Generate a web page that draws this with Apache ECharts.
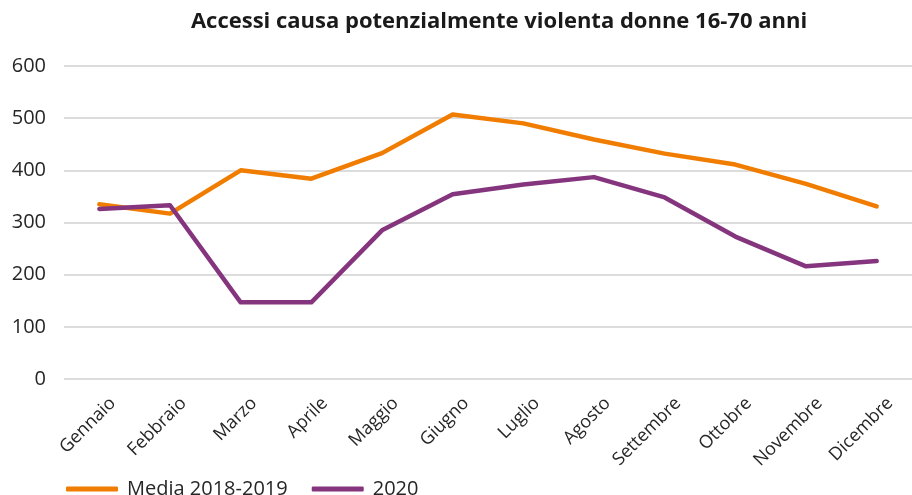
<!DOCTYPE html>
<html>
<head>
<meta charset="utf-8">
<script src="https://cdn.jsdelivr.net/npm/echarts@6/dist/echarts.min.js"></script>
<style>
  html, body { margin: 0; padding: 0; background: #fff; }
  #chart { width: 912px; height: 495px; }
</style>
</head>
<body>
<div id="chart"></div>
<script>
const months = ['Gennaio', 'Febbraio', 'Marzo', 'Aprile', 'Maggio', 'Giugno',
  'Luglio', 'Agosto', 'Settembre', 'Ottobre', 'Novembre', 'Dicembre']
const media1819 = [335, 317, 400, 384, 433, 507, 490, 459, 432, 411, 374, 331]
const anno2020 = [326, 333, 147, 147, 285, 354, 373, 387, 348, 273, 216, 226]
const yTicks = [0, 100, 200, 300, 400, 500, 600]

const chart = echarts.init(document.getElementById('chart'))
chart.setOption({
  animation: false,
  textStyle: { fontFamily: 'Open Sans' },
  title: {
    text: 'Accessi causa potenzialmente violenta donne 16-70 anni',
    left: 494,
    textAlign: 'center',
    top: 6,
    textStyle: { fontSize: 22, fontWeight: 'bold', color: '#1a1a1a', fontFamily: 'Open Sans' }
  },
  legend: {
    left: 61,
    top: 474,
    itemWidth: 52,
    itemHeight: 5,
    itemGap: 24,
    textStyle: { fontSize: 20, color: '#262626', padding: [0, 0, 0, 4] },
    data: [
      { name: 'Media 2018-2019', icon: 'roundRect' },
      { name: '2020', icon: 'roundRect' }
    ]
  },
  grid: { left: 64, right: -14, top: 66, bottom: 116 },
  xAxis: {
    type: 'category',
    data: months,
    boundaryGap: true,
    axisLine: { show: false },
    axisTick: { show: false },
    axisLabel: {
      rotate: 45,
      fontSize: 18,
      color: '#262626',
      margin: 8,
      verticalAlign: 'top',
      lineHeight: 38
    }
  },
  yAxis: {
    type: 'value',
    min: yTicks[0],
    max: yTicks[yTicks.length - 1],
    interval: 100,
    axisLine: { show: false },
    axisTick: { show: false },
    axisLabel: { fontSize: 20, color: '#262626', margin: 18 },
    splitLine: { lineStyle: { color: '#d0d0d0', width: 1.5 } }
  },
  series: [
    {
      name: 'Media 2018-2019',
      type: 'line',
      data: media1819,
      symbol: 'none',
      color: '#f07d00',
      lineStyle: { width: 4.5, color: '#f07d00', cap: 'round', join: 'round' }
    },
    {
      name: '2020',
      type: 'line',
      data: anno2020,
      symbol: 'none',
      color: '#85357d',
      lineStyle: { width: 4.5, color: '#85357d', cap: 'round', join: 'round' }
    }
  ]
})
</script>
</body>
</html>
